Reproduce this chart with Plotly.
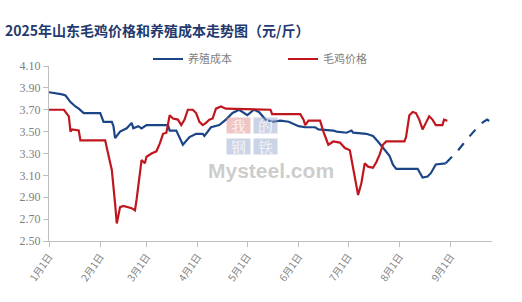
import plotly.graph_objects as go

# 养殖成本 (breeding cost), solid part
cost_dates = ["2025-01-01","2025-01-06","2025-01-09","2025-01-11","2025-01-14","2025-01-17","2025-01-19",
              "2025-01-22","2025-02-01","2025-02-03","2025-02-08","2025-02-09","2025-02-10","2025-02-13",
              "2025-02-17","2025-02-20","2025-02-21","2025-02-24","2025-02-26","2025-03-01","2025-03-14",
              "2025-03-15","2025-03-19","2025-03-23","2025-03-27","2025-03-31","2025-04-04","2025-04-05",
              "2025-04-09","2025-04-14","2025-04-18","2025-04-22","2025-04-26","2025-05-01","2025-05-05",
              "2025-05-08","2025-05-12","2025-05-16","2025-05-21","2025-05-26","2025-05-29","2025-06-01",
              "2025-06-05","2025-06-11","2025-06-13","2025-06-22","2025-06-24","2025-06-30","2025-07-03",
              "2025-07-04","2025-07-12","2025-07-16","2025-07-19","2025-07-21","2025-07-23","2025-07-26",
              "2025-07-28","2025-07-30","2025-08-12","2025-08-15","2025-08-18","2025-08-20","2025-08-23",
              "2025-08-29"]
cost_values = [3.86,3.85,3.84,3.83,3.77,3.73,3.71,
               3.67,3.67,3.59,3.59,3.55,3.44,3.50,
               3.53,3.58,3.53,3.55,3.53,3.56,3.56,
               3.51,3.51,3.38,3.45,3.48,3.48,3.46,
               3.54,3.56,3.61,3.67,3.70,3.65,3.70,
               3.68,3.61,3.59,3.60,3.59,3.57,3.55,
               3.54,3.54,3.52,3.51,3.50,3.49,3.51,
               3.49,3.48,3.46,3.41,3.37,3.33,3.28,
               3.20,3.16,3.16,3.08,3.09,3.12,3.20,
               3.21]

# 养殖成本 forecast (dashed)
fcst_dates = ["2025-08-29","2025-09-05","2025-09-12","2025-09-19","2025-09-23","2025-09-25"]
fcst_values = [3.21,3.32,3.45,3.57,3.61,3.59]

# 毛鸡价格 (live chicken price)
price_dates = ["2025-01-01","2025-01-10","2025-01-13","2025-01-14","2025-01-15","2025-01-19","2025-01-20",
               "2025-02-04","2025-02-05","2025-02-06","2025-02-08","2025-02-10","2025-02-11","2025-02-13",
               "2025-02-15","2025-02-20","2025-02-22","2025-02-23","2025-02-25","2025-02-26","2025-02-28",
               "2025-03-01","2025-03-04","2025-03-07","2025-03-09","2025-03-11","2025-03-13","2025-03-15",
               "2025-03-17","2025-03-20","2025-03-22","2025-03-24","2025-03-26","2025-03-29","2025-03-31",
               "2025-04-02","2025-04-04","2025-04-06","2025-04-08","2025-04-10","2025-04-12","2025-04-15",
               "2025-04-18","2025-05-15","2025-05-16","2025-06-02","2025-06-04","2025-06-05","2025-06-07",
               "2025-06-14","2025-06-16","2025-06-19","2025-06-22","2025-06-26","2025-06-29","2025-07-02",
               "2025-07-07","2025-07-09","2025-07-11","2025-07-13","2025-07-16","2025-07-18","2025-07-20",
               "2025-07-22","2025-07-24","2025-08-04","2025-08-05","2025-08-07","2025-08-09","2025-08-11",
               "2025-08-13","2025-08-15","2025-08-17","2025-08-19","2025-08-21","2025-08-23","2025-08-27",
               "2025-08-28","2025-08-30"]
price_values = [3.70,3.70,3.64,3.50,3.52,3.51,3.42,
                3.42,3.35,3.29,3.15,2.84,2.66,2.81,
                2.82,2.80,2.78,2.88,3.12,3.24,3.21,
                3.27,3.30,3.32,3.39,3.48,3.49,3.65,
                3.62,3.61,3.56,3.61,3.70,3.70,3.67,
                3.59,3.56,3.58,3.61,3.62,3.71,3.73,
                3.71,3.70,3.66,3.66,3.61,3.56,3.60,
                3.60,3.50,3.38,3.41,3.40,3.35,3.33,
                2.92,3.03,3.21,3.18,3.17,3.22,3.29,
                3.38,3.41,3.41,3.45,3.65,3.68,3.67,
                3.61,3.52,3.58,3.64,3.61,3.56,3.56,
                3.61,3.60]

tick_dates = ["2025-01-01","2025-02-01","2025-03-01","2025-04-01","2025-05-01",
              "2025-06-01","2025-07-01","2025-08-01","2025-09-01"]
tick_labels = ["1月1日","2月1日","3月1日","4月1日","5月1日","6月1日","7月1日","8月1日","9月1日"]

BLUE = "#1c4587"
RED = "#c0161d"
GREY = "#7f7f7f"
CJK = "Noto Sans CJK SC"

fig = go.Figure()
fig.add_trace(go.Scatter(x=cost_dates, y=cost_values, mode="lines", name="养殖成本",
                         line=dict(color=BLUE, width=2.2)))
fig.add_trace(go.Scatter(x=price_dates, y=price_values, mode="lines", name="毛鸡价格",
                         line=dict(color=RED, width=2.2)))
fig.add_trace(go.Scatter(x=fcst_dates, y=fcst_values, mode="lines", showlegend=False,
                         line=dict(color=BLUE, width=2.2, dash="dash")))

# watermark
wm = [("我", 238, 125, "rgba(226,140,140,0.5)"), ("的", 265, 125, "rgba(150,170,205,0.5)"),
      ("钢", 238, 146, "rgba(150,170,205,0.5)"), ("铁", 265, 146, "rgba(150,170,205,0.5)")]
for ch, px, py, bg in wm:
    fig.add_annotation(x=(px - 49) / 443, y=1 - (py - 66) / 175, xref="paper", yref="paper",
                       text=ch, showarrow=False, bgcolor=bg, width=23, height=15, borderpad=0,
                       font=dict(family="Noto Serif CJK SC, Noto Sans CJK SC", size=15,
                                 color="rgba(255,255,255,0.85)"))
fig.add_annotation(x=(271 - 49) / 443, y=1 - (170 - 66) / 175, xref="paper", yref="paper",
                   text="<b>Mysteel.com</b>", showarrow=False, borderpad=0,
                   font=dict(family="Arial, Liberation Sans", size=21, color="rgba(170,170,170,0.6)"))

fig.update_layout(
    width=522, height=302,
    margin=dict(l=49, r=30, t=66, b=61),
    paper_bgcolor="white", plot_bgcolor="white",
    title=dict(text="<b>2025年山东毛鸡价格和养殖成本走势图（元/斤）</b>",
               x=5 / 522, xanchor="left", y=1 - 31 / 302, yanchor="middle",
               font=dict(family=CJK, size=14, color="#1f3a6e")),
    legend=dict(orientation="h", x=(148 - 49) / 443, xanchor="left", y=1 + 7 / 175,
                yanchor="middle", entrywidth=90, entrywidthmode="pixels",
                font=dict(family=CJK, size=11, color=GREY), bgcolor="rgba(0,0,0,0)"),
    showlegend=True,
)
fig.update_xaxes(type="date", range=["2025-01-01", "2025-09-26"],
                 tickvals=tick_dates, ticktext=tick_labels, tickangle=-55,
                 tickfont=dict(family=CJK, size=10, color=GREY),
                 showgrid=False, zeroline=False, showline=True, linecolor="#bfbfbf", linewidth=1,
                 ticks="outside", ticklen=5, tickcolor="#bfbfbf")
fig.update_yaxes(range=[2.5, 4.1], dtick=0.2, tick0=2.5, tickformat=".2f",
                 tickfont=dict(family="Liberation Serif", size=12, color=GREY),
                 showgrid=False, zeroline=False, showline=True, linecolor="#bfbfbf", linewidth=1,
                 ticks="outside", ticklen=5, tickcolor="#bfbfbf")

fig.write_html("out.html")
